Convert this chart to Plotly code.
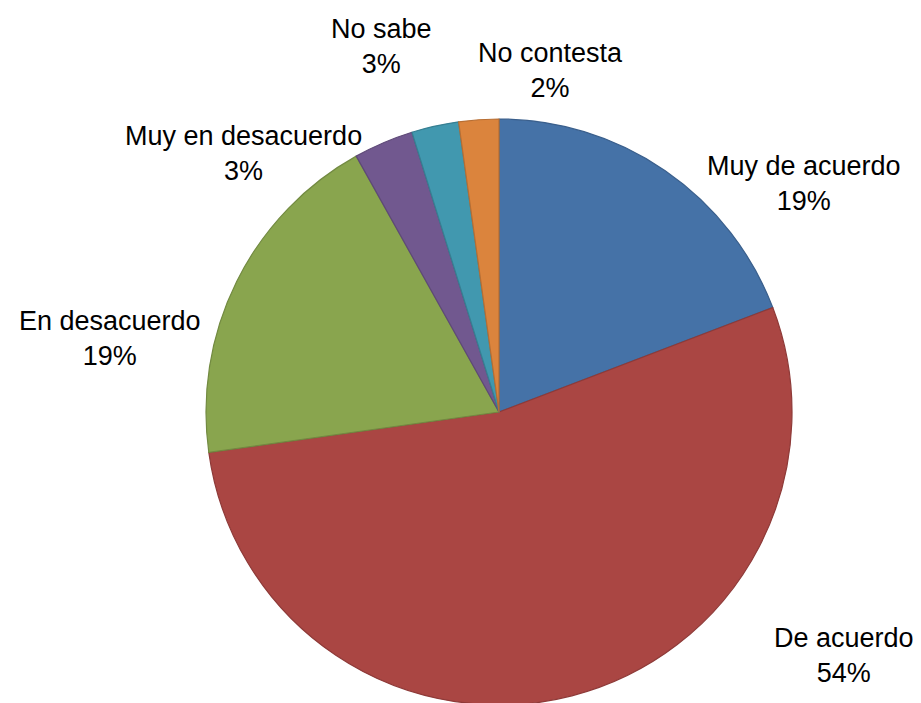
import plotly.graph_objects as go

categories = ["Muy de acuerdo", "De acuerdo", "En desacuerdo", "Muy en desacuerdo", "No sabe", "No contesta"]
values = [19.2, 53.6, 19.1, 3.3, 2.6, 2.2]

colors = ["#4572A7", "#AA4643", "#89A54E", "#71588F", "#4198AF", "#DB843D"]
border_colors = ["#3A5F8C", "#8E3A38", "#728A41", "#5E4977", "#367F92", "#B76E33"]

W, H = 921, 703
OFF = 8  # page body margin offset

# label centres (pixels in the page)
label_px = [(804, 184), (844, 655), (110, 338), (243, 154), (381, 46), (550, 70)]

# pie centre and radius in page pixels
cx, cy, r = 499 - OFF, 412 - OFF, 293

total = sum(values)

fig = go.Figure(go.Pie(
    labels=categories,
    values=values,
    sort=False,
    direction="clockwise",
    rotation=0,
    textinfo="none",
    hoverinfo="label+percent",
    marker=dict(colors=colors, line=dict(color=border_colors, width=1.2)),
    domain=dict(x=[(cx - r) / W, (cx + r) / W], y=[(H - cy - r) / H, (H - cy + r) / H]),
    showlegend=False,
))

annotations = []
for cat, val, (px, py) in zip(categories, values, label_px):
    pct = round(val / total * 100)
    annotations.append(dict(
        text=f"{cat}<br>{pct}%",
        x=(px - OFF) / W, y=1 - (py - OFF) / H,
        xref="paper", yref="paper",
        xanchor="center", yanchor="middle",
        showarrow=False,
        align="center",
        font=dict(family="Liberation Sans, Arial, sans-serif", size=27, color="#000000"),
    ))

fig.update_layout(
    width=W, height=H,
    margin=dict(l=0, r=0, t=0, b=0),
    paper_bgcolor="white",
    plot_bgcolor="white",
    annotations=annotations,
)

fig.write_html("out.html")
